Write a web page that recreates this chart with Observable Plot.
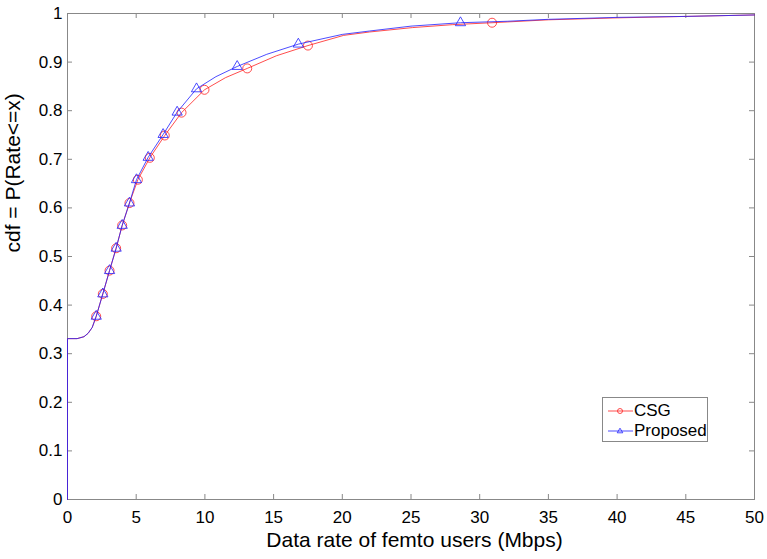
<!DOCTYPE html>
<html>
<head>
<meta charset="utf-8">
<script src="https://cdn.jsdelivr.net/npm/d3@7"></script>
<script src="https://cdn.jsdelivr.net/npm/@observablehq/plot@0.6"></script>
<style>
  body { margin: 0; background: #fff; }
  #wrap { position: relative; width: 767px; height: 559px; font-family: "Liberation Sans", Arial, sans-serif; }
  #legend { position: absolute; left: 602px; top: 397px; width: 106px; height: 45px; border: 1px solid #888; background: #fff; box-sizing: border-box; }
  .row { position: absolute; left: 0; height: 20px; width: 104px; }
  .row svg { position: absolute; left: 4px; top: 0; }
  .row span { position: absolute; left: 31px; top: 0; line-height: 20px; font-size: 17px; color: #000; }
</style>
</head>
<body>
<div id="wrap"></div>
<script>
// ---- data ----
const xTicks = [0, 5, 10, 15, 20, 25, 30, 35, 40, 45, 50];
const yTicks = [0, 0.1, 0.2, 0.3, 0.4, 0.5, 0.6, 0.7, 0.8, 0.9, 1];
const seriesNames = ["CSG", "Proposed"];
const xLabel = "Data rate of femto users (Mbps)";
const yLabel = "cdf = P(Rate<=x)";

const csgX = [0, 0, 0.7, 1.2, 1.5, 1.8, 2.09, 2.57, 3.06, 3.54, 3.98, 4.51, 5.12, 5.99, 7.08, 8.3, 9.97, 11.5, 13.08, 15.2, 17.5, 20.1, 22, 25.1, 28, 30.9, 35, 40, 45, 50];
const csgY = [0, 0.331, 0.331, 0.335, 0.342, 0.354, 0.377, 0.423, 0.471, 0.517, 0.564, 0.610, 0.658, 0.703, 0.749, 0.796, 0.843, 0.868, 0.887, 0.913, 0.934, 0.955, 0.962, 0.971, 0.977, 0.981, 0.987, 0.991, 0.994, 0.997];
const csgMarkX = [2.09, 2.57, 3.06, 3.54, 3.98, 4.51, 5.12, 5.99, 7.08, 8.30, 9.97, 13.08, 17.5, 30.9];
const csgMarkY = [0.377, 0.423, 0.471, 0.517, 0.564, 0.610, 0.658, 0.703, 0.749, 0.796, 0.843, 0.887, 0.934, 0.981];

const propX = [0, 0, 0.7, 1.2, 1.5, 1.8, 2.09, 2.57, 3.06, 3.54, 3.98, 4.51, 5.02, 5.87, 6.96, 7.98, 9.39, 10.8, 12.35, 14.5, 16.8, 20, 22, 25, 28.6, 32, 35, 40, 45, 50];
const propY = [0, 0.331, 0.331, 0.335, 0.342, 0.354, 0.377, 0.423, 0.471, 0.517, 0.564, 0.610, 0.658, 0.704, 0.751, 0.797, 0.845, 0.870, 0.891, 0.916, 0.937, 0.957, 0.964, 0.974, 0.981, 0.984, 0.988, 0.992, 0.994, 0.997];
const propMarkX = [2.09, 2.57, 3.06, 3.54, 3.98, 4.51, 5.02, 5.87, 6.96, 7.98, 9.39, 12.35, 16.8, 28.6];
const propMarkY = [0.377, 0.423, 0.471, 0.517, 0.564, 0.610, 0.658, 0.704, 0.751, 0.797, 0.845, 0.891, 0.937, 0.981];

// ---- build tables ----
const zip = (xs, ys) => xs.map((x, i) => ({x, y: ys[i]}));
const csgLine = zip(csgX, csgY), csgMarks = zip(csgMarkX, csgMarkY);
const propLine = zip(propX, propY), propMarks = zip(propMarkX, propMarkY);

const W = 767, H = 559, mt = 13, mb = 60, ml = 67, mr = 13;
const innerH = H - mt - mb, innerW = W - ml - mr, tickLen = 5;
const axisColor = "#888";
const red = "#ff2020", blue = "#2020ff";
const op = 0.8;

const chart = Plot.plot({
  width: W, height: H,
  marginTop: mt, marginBottom: mb, marginLeft: ml, marginRight: mr,
  style: { fontFamily: "'Liberation Sans', Arial, sans-serif", fontSize: "17px", color: "#000", background: "#fff", overflow: "visible" },
  x: { domain: [0, 50], label: null },
  y: { domain: [0, 1], label: null },
  marks: [
    Plot.frame({ stroke: axisColor }),
    Plot.tickX(xTicks, { x: d => d, stroke: axisColor, insetTop: innerH - tickLen }),
    Plot.tickX(xTicks, { x: d => d, stroke: axisColor, insetBottom: innerH - tickLen }),
    Plot.tickY(yTicks, { y: d => d, stroke: axisColor, insetRight: innerW - tickLen }),
    Plot.tickY(yTicks, { y: d => d, stroke: axisColor, insetLeft: innerW - tickLen }),
    Plot.axisX(xTicks, { tickSize: 0, tickPadding: 11, tickFormat: d => String(d), fontSize: 17, fill: "#000" }),
    Plot.axisY(yTicks, { tickSize: 0, tickPadding: 5, tickFormat: d => String(d), fontSize: 17, fill: "#000" }),
    Plot.line(csgLine, { x: "x", y: "y", stroke: red, strokeWidth: 1, strokeOpacity: op }),
    Plot.dot(csgMarks, { x: "x", y: "y", r: 4.5, stroke: red, fill: "none", strokeWidth: 1, strokeOpacity: op }),
    Plot.line(propLine, { x: "x", y: "y", stroke: blue, strokeWidth: 1, strokeOpacity: op }),
    Plot.dot(propMarks, { x: "x", y: "y", symbol: "triangle", r: 3.8, stroke: blue, fill: "none", strokeWidth: 1, strokeOpacity: op }),
    Plot.text([xLabel], { frameAnchor: "bottom", dy: 47, dx: 3.5, fontSize: 21, fill: "#000" }),
    Plot.text([yLabel], { frameAnchor: "left", rotate: -90, dx: -54, dy: -4, fontSize: 21, fill: "#000" })
  ]
});
const wrap = document.getElementById("wrap");
wrap.appendChild(chart);

// ---- legend ----
const legend = document.createElement("div");
legend.id = "legend";
const legendItems = [
  { name: seriesNames[0], color: red, sym: "circle" },
  { name: seriesNames[1], color: blue, sym: "triangle" }
];
legendItems.forEach((it, i) => {
  const row = document.createElement("div");
  row.className = "row";
  row.style.top = (3 + i * 20) + "px";
  const marker = it.sym === "circle"
    ? `<circle cx="13" cy="10" r="2.5" fill="none" stroke="${it.color}" stroke-opacity="${op}"/>`
    : `<path d="M13,7.2L15.8,11.8L10.2,11.8Z" fill="none" stroke="${it.color}" stroke-opacity="${op}"/>`;
  row.innerHTML = `<svg width="27" height="20"><line x1="1" y1="10" x2="26" y2="10" stroke="${it.color}" stroke-opacity="${op}" stroke-width="1"/>${marker}</svg><span>${it.name}</span>`;
  legend.appendChild(row);
});
wrap.appendChild(legend);
</script>
</body>
</html>
